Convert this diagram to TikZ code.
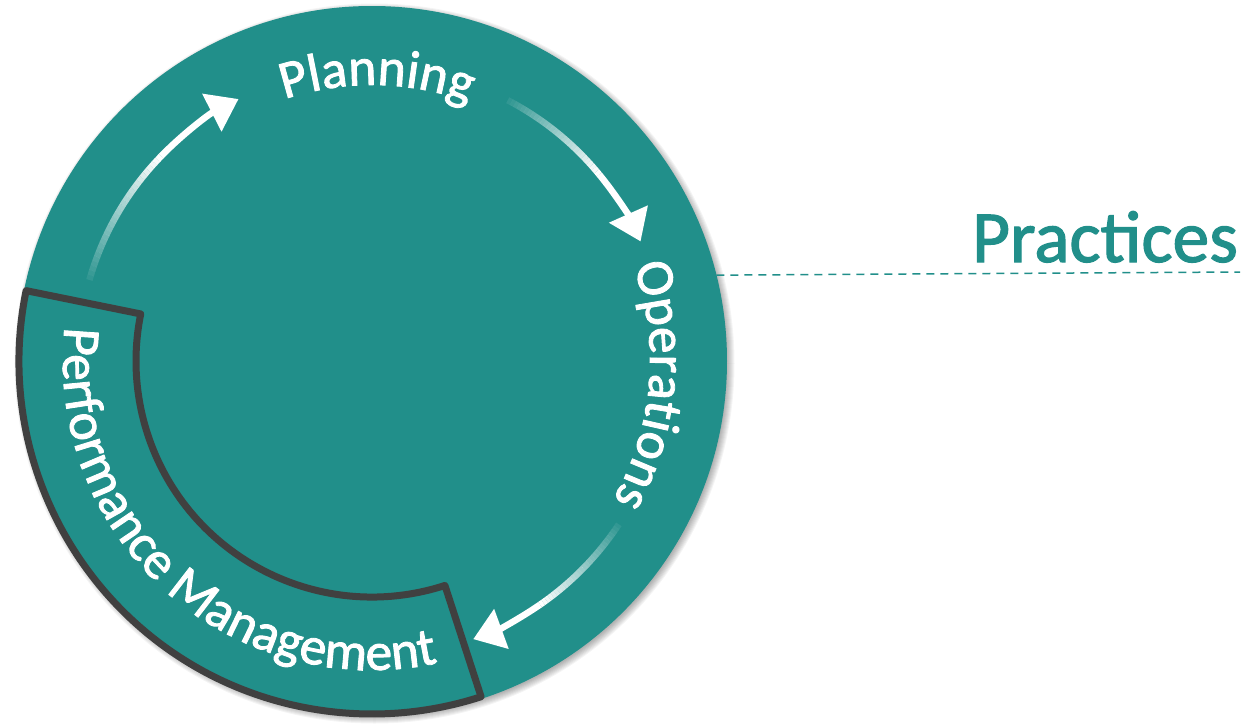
\documentclass[tikz,border=0pt]{standalone}
\usepackage{fontspec}
\setmainfont{Carlito}[RawFeature={embolden=1.6}]
\usetikzlibrary{arrows.meta,decorations.text}

\definecolor{cycleteal}{RGB}{33,143,138}
\definecolor{bandgray}{RGB}{64,64,64}

% white arc arrow whose tail fades in: #1 start angle, #2 end angle, #3 radius
\newcommand\fadingarc[3]{%
  \foreach \k in {0,...,29} {%
    \pgfmathsetmacro\angA{#1+(#2-#1)*0.6*\k/30}%
    \pgfmathsetmacro\angB{#1+(#2-#1)*0.6*(\k+1)/30}%
    \pgfmathsetmacro\op{0.08+0.92*\k/29}%
    \draw[arrowline, opacity=\op] (\angA:#3) arc[start angle=\angA, end angle=\angB, radius=#3];
  }%
  \pgfmathsetmacro\angC{#1+(#2-#1)*0.6}%
  \draw[arrowline, -{Triangle[length=30pt,width=41pt]}] (\angC:#3) arc[start angle=\angC, end angle=#2, radius=#3];
}

\begin{document}
\begin{tikzpicture}[x=1pt,y=1pt,
  arrowline/.style={draw=white, line width=6.5pt},
  bandedge/.style={draw=bandgray, line width=7pt, line join=round},
  curvedlabel/.style={decorate, decoration={text along path, text align=center, text color=white, raise=0pt}},
]
\useasboundingbox (-372,-363) rectangle (884,361);

% soft shadow under the disc
\foreach \i in {0,...,7}
  \fill[black, opacity=0.045] (2.5,-2.5) circle (353+\i);

% main disc
\node[circle, fill=cycleteal, inner sep=0pt, outer sep=0pt, minimum size=710pt] (disc) at (0,0) {};

% performance management band
\path[fill=cycleteal, bandedge]
  (168.5:353) arc[start angle=168.5, end angle=288, radius=353]
  -- (288:236) arc[start angle=288, end angle=168.5, radius=236] -- cycle;

% cycle arrows
\fadingarc{164}{117}{294}
\fadingarc{62.5}{24}{294}
\fadingarc{-33.5}{-70}{296}

% curved labels
\path[curvedlabel, decoration={text={|\fontsize{53.5}{60}\selectfont|Planning}}]
  (129:276) arc[start angle=129, end angle=49, radius=276];
\path[curvedlabel, decoration={text={|\fontsize{53.5}{60}\selectfont|Operations}}]
  (30:278) arc[start angle=30, end angle=-40, radius=278];
\path[curvedlabel, decoration={text={|\fontsize{53.5}{60}\selectfont|Performance Management}}]
  (168:309) arc[start angle=168, end angle=288, radius=309];

% title and leader line
\node[anchor=base east, text=cycleteal, font=\fontsize{73.5}{80}\selectfont, inner sep=0pt] (practices) at (866,99) {Practices};
\coordinate (leaderend) at (868,89);
\draw[cycleteal, line width=1.5pt, dash pattern=on 8pt off 6pt] (disc.14.5) -- (leaderend);
\end{tikzpicture}
\end{document}
